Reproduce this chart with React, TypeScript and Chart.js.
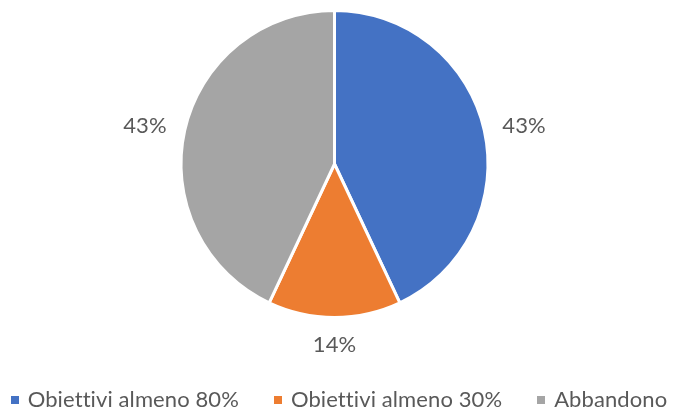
import React, { useEffect, useRef } from "react";
import { Chart, registerables } from "chart.js";

Chart.register(...registerables);

const categories = ["Obiettivi almeno 80%", "Obiettivi almeno 30%", "Abbandono"];
const values = [43, 14, 43];
const colors = ["#4472C4", "#ED7D31", "#A5A5A5"];

const FONT_FAMILY = "Lato";
const FONT_SIZE = 22;
const TEXT_COLOR = "#595959";

const setFont = (ctx: any) => {
  ctx.font = `${FONT_SIZE}px ${FONT_FAMILY}`;
  try {
    ctx.letterSpacing = "0.1px";
  } catch (e) {}
};

const sliceLabelPlugin = {
  id: "sliceLabels",
  afterDatasetsDraw(chart: any) {
    const ctx = chart.ctx;
    const meta = chart.getDatasetMeta(0);
    const total = values.reduce((a, b) => a + b, 0);
    ctx.save();
    setFont(ctx);
    ctx.fillStyle = TEXT_COLOR;
    ctx.textAlign = "center";
    ctx.textBaseline = "alphabetic";
    meta.data.forEach((arc: any, i: number) => {
      const { x, y, startAngle, endAngle, outerRadius } = arc.getProps(
        ["x", "y", "startAngle", "endAngle", "outerRadius"],
        true
      );
      const mid = (startAngle + endAngle) / 2;
      const dx = Math.cos(mid);
      const dy = Math.sin(mid);
      const text = Math.round((values[i] / total) * 100) + "%";
      const w = ctx.measureText(text).width;
      const h = FONT_SIZE * 0.72;
      const r = outerRadius + 19;
      const cx = x + dx * r + (dx * w) / 2;
      const cy = y + dy * r + (dy * h) / 2;
      ctx.fillText(text, cx, cy + h / 2);
    });
    ctx.restore();
  },
};

const legendPlugin = {
  id: "bottomLegend",
  afterDraw(chart: any) {
    const ctx = chart.ctx;
    ctx.save();
    setFont(ctx);
    const box = 8;
    const gapBoxText = 9;
    const gapItems = 35;
    const widths = categories.map((c) => ctx.measureText(c).width);
    const total =
      widths.reduce((a, b) => a + b, 0) +
      categories.length * (box + gapBoxText) +
      (categories.length - 1) * gapItems;
    const centerX = 339;
    const centerY = 399.5;
    let x = centerX - total / 2;
    const capH = FONT_SIZE * 0.72;
    categories.forEach((c, i) => {
      ctx.fillStyle = colors[i];
      ctx.fillRect(Math.round(x), Math.round(centerY - box / 2), box, box);
      x += box + gapBoxText;
      ctx.fillStyle = TEXT_COLOR;
      ctx.textAlign = "left";
      ctx.textBaseline = "alphabetic";
      ctx.fillText(c, x, centerY + capH / 2);
      x += widths[i] + gapItems;
    });
    ctx.restore();
  },
};

export default function App() {
  const canvasRef = useRef<HTMLCanvasElement | null>(null);

  useEffect(() => {
    if (!canvasRef.current) return;
    const chart = new Chart(canvasRef.current, {
      type: "pie",
      data: {
        labels: categories,
        datasets: [
          {
            data: values,
            backgroundColor: colors,
            borderColor: "#ffffff",
            borderWidth: 3,
            hoverOffset: 0,
          },
        ],
      },
      options: {
        responsive: false,
        animation: false,
        layout: { padding: { top: 9, bottom: 94, left: 0, right: 12 } },
        plugins: {
          legend: { display: false },
          tooltip: { enabled: false },
        },
        events: [],
      },
      plugins: [sliceLabelPlugin, legendPlugin],
    });
    return () => chart.destroy();
  }, []);

  return (
    <div style={{ position: "fixed", left: 0, top: 0, width: 681, height: 413, background: "#ffffff" }}>
      <canvas ref={canvasRef} width={681} height={413} style={{ display: "block" }} />
    </div>
  );
}
